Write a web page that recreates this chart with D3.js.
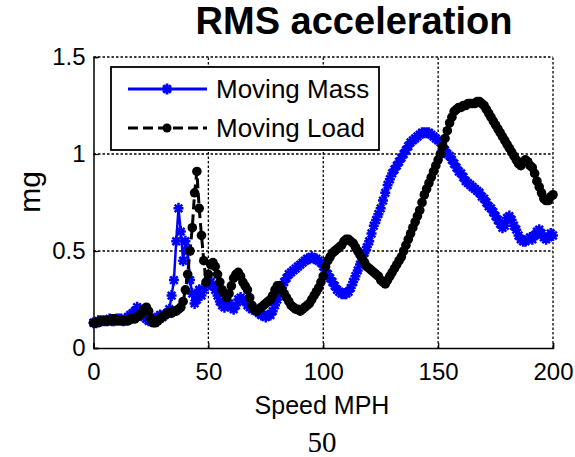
<!DOCTYPE html>
<html>
<head>
<meta charset="utf-8">
<script src="https://cdn.jsdelivr.net/npm/d3@7"></script>
<style>
body{margin:0;background:#fff;}
text{font-family:"Liberation Sans",Arial,sans-serif;fill:#000;}
</style>
</head>
<body>
<svg id="chart" width="575" height="457"></svg>
<script>
// speed in mph, one reading per mph
let speed=d3.range(0,201,1)
let seriesNames=["Moving Mass","Moving Load"]
let xTicks=[0,50,100,150,200]
let yTicks=[0,0.5,1,1.5]

let movingMass=[
0.13,0.13,0.14,0.14,0.14,0.14,0.14,0.15,0.14,0.14,
0.15,0.15,0.15,0.14,0.15,0.16,0.17,0.18,0.19,0.21,
0.20,0.18,0.16,0.15,0.14,0.14,0.15,0.15,0.16,0.17,
0.16,0.17,0.18,0.20,0.27,0.35,0.55,0.72,0.60,0.45,
0.55,0.50,0.35,0.28,0.23,0.25,0.30,0.27,0.30,0.33,
0.35,0.34,0.32,0.30,0.27,0.24,0.22,0.21,0.22,0.23,
0.21,0.20,0.22,0.25,0.26,0.25,0.24,0.22,0.21,0.20,
0.20,0.19,0.18,0.17,0.17,0.16,0.17,0.17,0.19,0.22,
0.25,0.28,0.31,0.34,0.36,0.38,0.39,0.40,0.41,0.42,
0.43,0.44,0.45,0.46,0.46,0.47,0.46,0.46,0.45,0.44,
0.42,0.40,0.38,0.36,0.34,0.32,0.30,0.29,0.28,0.28,
0.28,0.29,0.31,0.34,0.37,0.40,0.43,0.46,0.49,0.52,
0.55,0.59,0.63,0.66,0.69,0.72,0.76,0.80,0.84,0.87,
0.90,0.92,0.94,0.96,0.98,1.00,1.02,1.04,1.06,1.07,
1.08,1.09,1.10,1.11,1.11,1.11,1.11,1.10,1.09,1.08,
1.07,1.06,1.04,1.02,1.00,0.99,0.97,0.95,0.93,0.91,
0.90,0.88,0.86,0.85,0.84,0.83,0.82,0.81,0.80,0.78,
0.77,0.75,0.73,0.72,0.70,0.68,0.66,0.64,0.62,0.63,
0.67,0.68,0.66,0.63,0.61,0.58,0.56,0.55,0.55,0.56,
0.57,0.56,0.58,0.60,0.61,0.59,0.57,0.56,0.57,0.59,
0.58]

let movingLoad=[
0.13,0.13,0.13,0.14,0.14,0.14,0.14,0.14,0.15,0.15,
0.14,0.14,0.14,0.14,0.14,0.14,0.15,0.15,0.15,0.16,
0.17,0.18,0.20,0.21,0.19,0.15,0.13,0.13,0.14,0.15,
0.16,0.17,0.18,0.18,0.18,0.19,0.19,0.20,0.21,0.24,
0.30,0.38,0.50,0.62,0.80,0.91,0.72,0.58,0.45,0.34,
0.38,0.43,0.44,0.42,0.38,0.34,0.30,0.28,0.26,0.28,
0.32,0.36,0.38,0.39,0.37,0.34,0.32,0.30,0.26,0.22,
0.20,0.19,0.20,0.21,0.22,0.23,0.24,0.25,0.27,0.30,
0.32,0.32,0.30,0.28,0.26,0.24,0.22,0.21,0.20,0.20,
0.19,0.20,0.21,0.22,0.23,0.25,0.27,0.29,0.31,0.34,
0.37,0.42,0.45,0.47,0.49,0.50,0.51,0.52,0.53,0.55,
0.56,0.56,0.55,0.54,0.52,0.50,0.48,0.46,0.44,0.42,
0.41,0.40,0.39,0.38,0.37,0.35,0.34,0.33,0.35,0.37,
0.39,0.41,0.43,0.45,0.47,0.50,0.53,0.56,0.59,0.62,
0.65,0.68,0.71,0.75,0.79,0.82,0.85,0.88,0.91,0.94,
0.97,1.00,1.04,1.08,1.12,1.16,1.19,1.22,1.23,1.24,
1.24,1.25,1.25,1.26,1.26,1.26,1.26,1.27,1.27,1.26,
1.25,1.23,1.21,1.19,1.17,1.15,1.13,1.11,1.09,1.07,
1.05,1.03,1.01,0.99,0.97,0.95,0.94,0.96,0.97,0.96,
0.94,0.93,0.90,0.86,0.83,0.80,0.77,0.76,0.76,0.78,
0.79]

let svg=d3.select("#chart")
let x=d3.scaleLinear().domain([0,200]).range([93.5,553])
let y=d3.scaleLinear().domain([0,1.5]).range([348,57])

// grid, MATLAB style dotted
let grid=svg.append("g")
grid.selectAll("line.vg")
	.data(xTicks.slice(1))
	.enter().append("line")
	.attr("x1",d=>x(d)).attr("x2",d=>x(d))
	.attr("y1",y(0)).attr("y2",y(1.5))
	.attr("stroke","#000").attr("stroke-width",1.3)
	.attr("stroke-dasharray","2.5,2")
grid.selectAll("line.hg")
	.data(yTicks.slice(1))
	.enter().append("line")
	.attr("x1",x(0)).attr("x2",x(200))
	.attr("y1",d=>y(d)).attr("y2",d=>y(d))
	.attr("stroke","#000").attr("stroke-width",1.3)
	.attr("stroke-dasharray","2.5,2")

// axes
let xAxis=svg.append("g")
	.attr("transform","translate(0,"+y(0)+")")
	.call(d3.axisBottom(x).tickValues(xTicks).tickSize(-5).tickPadding(15).tickFormat(d3.format("d")))
let yAxis=svg.append("g")
	.attr("transform","translate("+x(0)+",0)")
	.call(d3.axisLeft(y).tickValues(yTicks).tickSize(-5).tickPadding(8).tickFormat(d=>d))
svg.selectAll(".domain").attr("stroke","#000").attr("stroke-width",1.5)
svg.selectAll(".tick line").attr("stroke","#000").attr("stroke-width",1.3)
svg.selectAll(".tick text").style("font-size","24px").style("font-family","Liberation Sans, Arial, sans-serif")

// series
let ptsMass=speed.map((s,i)=>[s,movingMass[i]])
let ptsLoad=speed.map((s,i)=>[s,movingLoad[i]])
let line=d3.line().x(d=>x(d[0])).y(d=>y(d[1]))

let star="M0,-5.5L0,5.5M-5,0L5,0M-3.8,-3.8L3.8,3.8M-3.8,3.8L3.8,-3.8"

svg.append("path")
	.attr("d",line(ptsMass))
	.attr("fill","none").attr("stroke","#0000ff").attr("stroke-width",2.5)
svg.append("g").selectAll("path")
	.data(ptsMass)
	.enter().append("path")
	.attr("transform",d=>"translate("+x(d[0])+","+y(d[1])+")")
	.attr("d",star)
	.attr("fill","none").attr("stroke","#0000ff").attr("stroke-width",2.5)

svg.append("path")
	.attr("d",line(ptsLoad))
	.attr("fill","none").attr("stroke","#000").attr("stroke-width",3)
	.attr("stroke-dasharray","10,5")
svg.append("g").selectAll("circle")
	.data(ptsLoad)
	.enter().append("circle")
	.attr("cx",d=>x(d[0])).attr("cy",d=>y(d[1]))
	.attr("r",4.8).attr("fill","#000")

// legend
let lg=svg.append("g")
lg.append("rect")
	.attr("x",111).attr("y",67).attr("width",268).attr("height",83)
	.attr("fill","#fff").attr("stroke","#000").attr("stroke-width",1.8)
let rows=[89,128]
lg.append("line").attr("x1",128).attr("x2",207).attr("y1",rows[0]).attr("y2",rows[0])
	.attr("stroke","#0000ff").attr("stroke-width",2.8)
lg.append("path").attr("transform","translate(167,"+rows[0]+")").attr("d",star)
	.attr("fill","none").attr("stroke","#0000ff").attr("stroke-width",2.8)
lg.append("line").attr("x1",128).attr("x2",207).attr("y1",rows[1]).attr("y2",rows[1])
	.attr("stroke","#000").attr("stroke-width",3).attr("stroke-dasharray","10,5")
lg.append("circle").attr("cx",167).attr("cy",rows[1]).attr("r",4.5).attr("fill","#000")
lg.selectAll("text")
	.data(seriesNames)
	.enter().append("text")
	.attr("x",216).attr("y",(d,i)=>rows[i])
	.attr("dy","0.35em")
	.style("font-size","26px")
	.text(d=>d)

// titles
svg.append("text")
	.attr("x",354).attr("y",34)
	.attr("text-anchor","middle")
	.style("font-size","38px").style("font-weight","bold")
	.text("RMS acceleration")
svg.append("text")
	.attr("x",322).attr("y",414)
	.attr("text-anchor","middle")
	.style("font-size","25px")
	.text("Speed MPH")
svg.append("text")
	.attr("transform","translate(40,192) rotate(-90)")
	.attr("text-anchor","middle")
	.style("font-size","30px")
	.text("mg")
svg.append("text")
	.attr("x",322).attr("y",452)
	.attr("text-anchor","middle")
	.style("font-size","29px").style("font-family","Liberation Serif, Times New Roman, serif")
	.text("50")
</script>
</body>
</html>
